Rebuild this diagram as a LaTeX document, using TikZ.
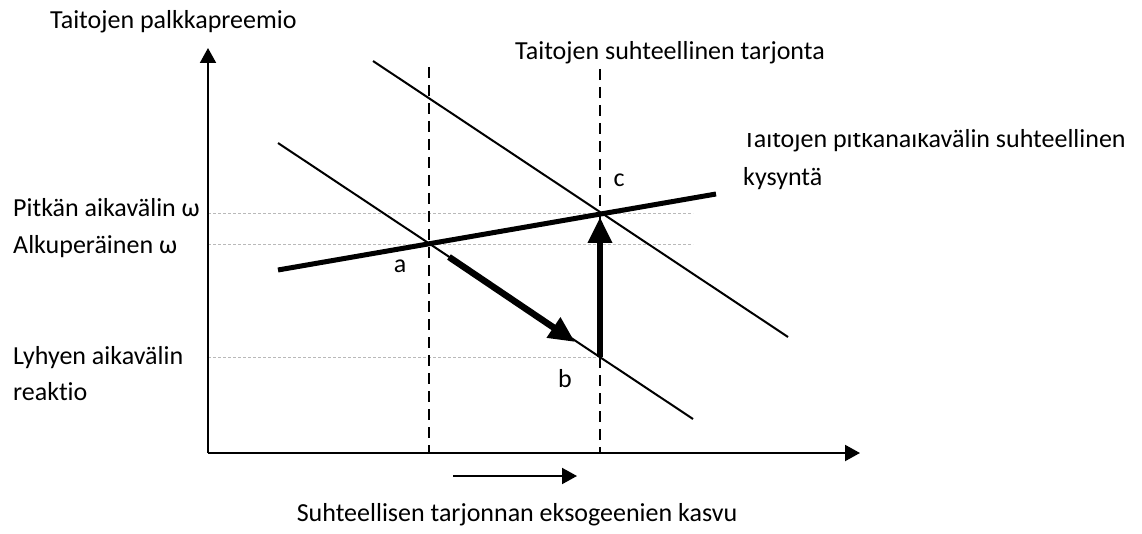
\documentclass[tikz,border=0pt]{standalone}
\usepackage{fontspec}
\setmainfont{Carlito}[Ligatures={NoCommon}]
\usetikzlibrary{arrows.meta}
\begin{document}
\begin{tikzpicture}[x=1pt,y=-1pt,
  lbl/.style={font=\fontsize{26}{32}\selectfont, inner sep=0pt, anchor=base west},
  clbl/.style={font=\fontsize{26}{32}\selectfont, inner sep=0pt, anchor=base},
  axis/.style={line width=2pt, -{Triangle[length=15pt,width=16pt]}},
  demand/.style={line width=2pt},
  rdline/.style={line width=5pt},
  shiftarrow/.style={line width=6.5pt, -{Triangle[length=26pt,width=23pt]}},
  supply/.style={line width=2pt, dash pattern=on 11pt off 7pt},
  guide/.style={line width=1pt, gray!55, dash pattern=on 3pt off 2pt}]
\useasboundingbox (0,0) rectangle (1142,534);
% key points
\coordinate (O) at (208,453);
\coordinate (ytip) at (208,48);
\coordinate (xtip) at (860,453);
\coordinate (a) at (429,244);
\coordinate (b) at (600,357);
\coordinate (c) at (600,214);
\coordinate (s1top) at (429,67);
\coordinate (s1bot) at (429,453);
\coordinate (s2top) at (600,69);
\coordinate (s2bot) at (600,453);
\coordinate (d1s) at (373,61);
\coordinate (d1e) at (788,337);
\coordinate (d0s) at (278,143);
\coordinate (d0e) at (693,419);
\coordinate (rds) at (278,270);
\coordinate (rde) at (716,194);
\coordinate (g1s) at (208,214);
\coordinate (g1e) at (693,214);
\coordinate (g2s) at (208,245);
\coordinate (g2e) at (693,245);
\coordinate (g3s) at (208,357);
\coordinate (arrs) at (449,257);
\coordinate (arre) at (575,342);
\coordinate (vtip) at (600,217);
\coordinate (hs) at (453,476);
\coordinate (he) at (577,476);
% guides
\draw[guide] (g1s) -- (g1e);
\draw[guide] (g2s) -- (g2e);
\draw[guide] (g3s) -- (b);
% axes
\draw[axis] (O) -- (ytip);
\draw[axis] (O) -- (xtip);
% supply
\draw[supply] (s1top) -- (s1bot);
\draw[supply] (s2top) -- (s2bot);
% demand
\draw[demand] (d1s) -- (d1e);
\draw[demand] (d0s) -- (d0e);
% long-run relative demand
\draw[rdline] (rds) -- (rde);
% movements
\draw[shiftarrow] (arrs) -- (arre);
\draw[shiftarrow] (b) -- (vtip);
\draw[line width=2pt, -{Triangle[length=15pt,width=16pt]}] (hs) -- (he);
% labels
\node[lbl] (ylab) at (50,29) {Taitojen palkkapreemio};
\node[lbl] (slab) at (515,60) {Taitojen suhteellinen tarjonta};
\begin{scope}
\clip (735,133) -- (940,133) -- (940,0) -- (1142,0) -- (1142,534) -- (735,534) -- cycle;
\node[lbl] (rdlab1) at (743,148) {Taitojen pitkänaikavälin suhteellinen};
\end{scope}
\node[lbl] (rdlab2) at (743,186) {kysyntä};
\node[lbl] (pw) at (13,217) {Pitkän aikavälin ω};
\node[lbl] (aw) at (13,254) {Alkuperäinen ω};
\node[lbl] (ly1) at (13,364) {Lyhyen aikavälin};
\node[lbl] (ly2) at (13,400) {reaktio};
\node[clbl] (la) at (400,273) {a};
\node[clbl] (lb) at (565,387) {b};
\node[clbl] (lc) at (619,187) {c};
\node[clbl] (xlab) at (517,521) {Suhteellisen tarjonnan eksogeenien kasvu};
\end{tikzpicture}
\end{document}
